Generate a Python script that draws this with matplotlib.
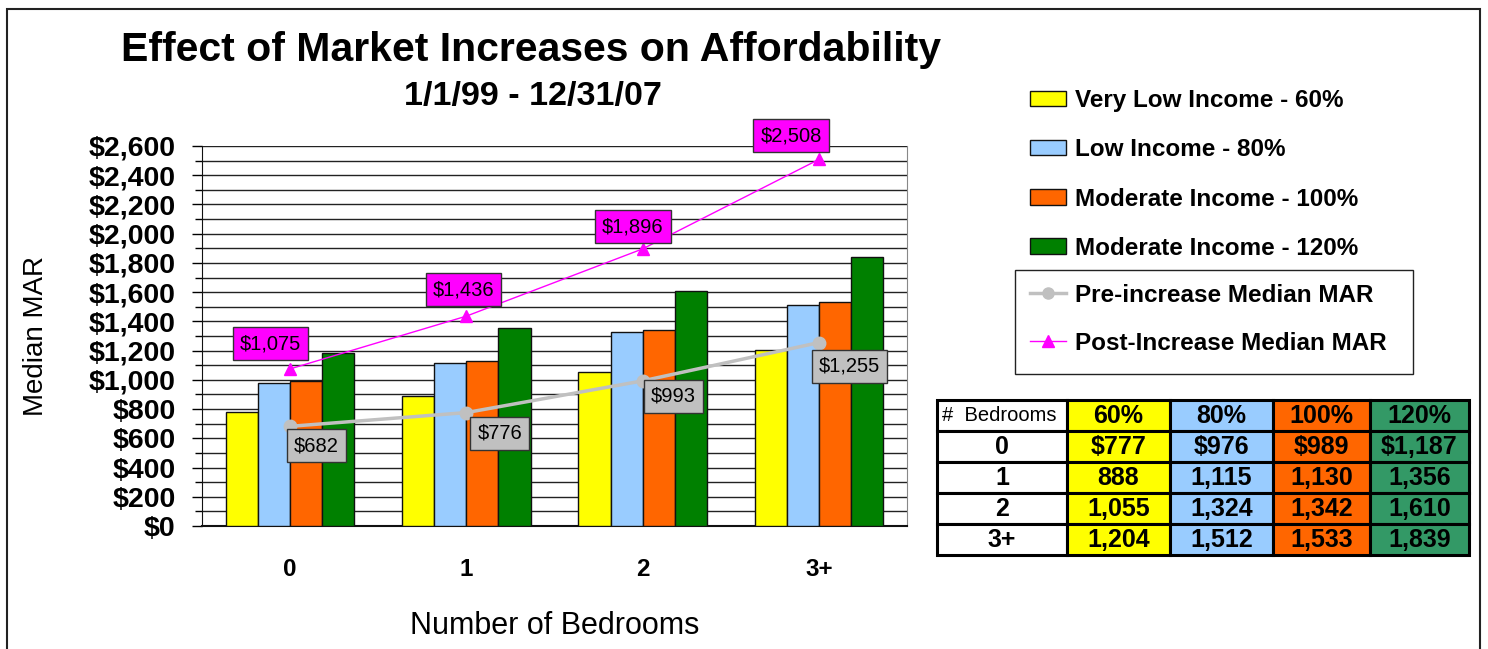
import matplotlib
matplotlib.use("Agg")
import matplotlib.pyplot as plt
import numpy as np
from matplotlib.patches import Rectangle, Patch
from matplotlib.lines import Line2D

plt.rcParams['font.family'] = ['Liberation Sans', 'DejaVu Sans']

bedrooms = ["0", "1", "2", "3+"]
very_low_60 = [777, 888, 1055, 1204]
low_80 = [976, 1115, 1324, 1512]
moderate_100 = [989, 1130, 1342, 1533]
moderate_120 = [1187, 1356, 1610, 1839]
pre_increase = [682, 776, 993, 1255]
post_increase = [1075, 1436, 1896, 2508]

series_names = ["Very Low Income - 60%", "Low Income - 80%",
                "Moderate Income - 100%", "Moderate Income - 120%"]
table_headers = ["60%", "80%", "100%", "120%"]
bar_colors = ["#FFFF00", "#99CCFF", "#FF6600", "#008000"]
table_colors = ["#FFFF00", "#99CCFF", "#FF6600", "#339966"]

W, H = 1488, 649
fig = plt.figure(figsize=(W / 100, H / 100), dpi=100)

# outer frame
fig.patches.append(Rectangle((7 / W, -0.05), (1480 - 7) / W, 1 - 9 / H + 0.05,
                             transform=fig.transFigure, fill=False,
                             edgecolor="#222222", linewidth=1.5))

ax = fig.add_axes([202 / W, 1 - 526 / H, (907 - 202) / W, (526 - 146) / H])

x = np.arange(len(bedrooms))
bw = 0.182
all_series = [very_low_60, low_80, moderate_100, moderate_120]
for i, (vals, col) in enumerate(zip(all_series, bar_colors)):
    ax.bar(x + (i - 1.5) * bw, vals, bw, color=col, edgecolor="#111111",
           linewidth=1, zorder=3)

ax.plot(x, pre_increase, color="#C0C0C0", linewidth=2.5, marker="o",
        markersize=9, zorder=4)
ax.plot(x, post_increase, color="#FF00FF", linewidth=1, marker="^",
        markersize=9, zorder=4)

pre_offsets = [(19, -14), (24, -15), (22, -11), (22, -17)]
post_offsets = [(-14, 18), (-2, 19), (-7, 16), (-20, 17)]
for xi, v, off in zip(x, pre_increase, pre_offsets):
    ax.annotate(f"${v:,}", (xi, v), xytext=off, textcoords="offset points",
                ha="center", va="center", fontsize=14.5, zorder=6,
                bbox=dict(boxstyle="square,pad=0.35", fc="#C0C0C0", ec="#333333", lw=1))
for xi, v, off in zip(x, post_increase, post_offsets):
    ax.annotate(f"${v:,}", (xi, v), xytext=off, textcoords="offset points",
                ha="center", va="center", fontsize=14.5, zorder=6, annotation_clip=False,
                bbox=dict(boxstyle="square,pad=0.35", fc="#FF00FF", ec="#333333", lw=1))

ax.set_xlim(-0.5, 3.5)
ax.set_ylim(0, 2600)
ax.set_yticks(np.arange(0, 2601, 200))
ax.set_yticks(np.arange(100, 2600, 200), minor=True)
ax.set_yticklabels([f"${v:,}" for v in range(0, 2601, 200)],
                   fontsize=20.5, fontweight="bold")
ax.set_xticks(x)
ax.set_xticklabels(bedrooms, fontsize=17.5, fontweight="bold")
ax.tick_params(axis="x", length=0, pad=23)
ax.tick_params(axis="y", which="major", length=7, width=1, pad=12)
ax.tick_params(axis="y", which="minor", length=5, width=1)
for v in range(100, 2601, 100):
    ax.axhline(v, color="#222222", linewidth=1, zorder=1)
ax.spines["top"].set_visible(False)
ax.spines["right"].set_color("#888888")
ax.spines["left"].set_color("#111111")
ax.spines["bottom"].set_color("#111111")
ax.spines["bottom"].set_linewidth(1.5)

ax.set_ylabel("Median MAR", fontsize=20)
ax.yaxis.set_label_coords((49 - 202) / 705, 0.5)
ax.set_xlabel("Number of Bedrooms", fontsize=22, labelpad=22)

fig.text(531 / W, 1 - 50 / H, "Effect of Market Increases on Affordability",
         ha="center", va="center", fontsize=29.5, fontweight="bold")
fig.text(533 / W, 1 - 97 / H, "1/1/99 - 12/31/07",
         ha="center", va="center", fontsize=24.5, fontweight="bold")

# legends
bar_handles = [Patch(facecolor=c, edgecolor="#111111", linewidth=1) for c in bar_colors]
fig.legend(bar_handles, series_names, loc="upper left",
           bbox_to_anchor=(1030 / W, 1 - 89 / H), frameon=False,
           prop=dict(size=17.5, weight="bold"), borderpad=0, borderaxespad=0,
           labelspacing=1.08, handlelength=1.5, handleheight=0.6,
           handletextpad=0.35)
line_handles = [Line2D([], [], color="#C0C0C0", lw=2.5, marker="o", markersize=8),
                Line2D([], [], color="#FF00FF", lw=1, marker="^", markersize=9)]
fig.legend(line_handles, ["Pre-increase Median MAR", "Post-Increase Median MAR"],
           loc="upper left", bbox_to_anchor=(1030 / W, 1 - 284 / H),
           frameon=False, prop=dict(size=17.5, weight="bold"), borderpad=0,
           borderaxespad=0, labelspacing=1.02, handlelength=1.5,
           handletextpad=0.35)
fig.patches.append(Rectangle((1015 / W, 1 - 374 / H), (1413 - 1015) / W, (374 - 270) / H,
                             transform=fig.transFigure, fill=False,
                             edgecolor="#222222", linewidth=1))

# data table
tax = fig.add_axes([937 / W, 1 - 555 / H, (1469 - 937) / W, (555 - 400) / H])
tax.set_xlim(937, 1469)
tax.set_ylim(5, 0)
tax.axis("off")
edges = [937, 1067, 1170, 1273, 1370, 1469]
rows = [["# Bedrooms"] + table_headers]
for r, b in enumerate(bedrooms):
    row = [b]
    for s in all_series:
        row.append(f"${s[r]:,}" if r == 0 else f"{s[r]:,}")
    rows.append(row)
for r, row in enumerate(rows):
    for c, txt in enumerate(row):
        fc = "white" if c == 0 else table_colors[c - 1]
        tax.add_patch(Rectangle((edges[c], r), edges[c + 1] - edges[c], 1,
                                facecolor=fc, edgecolor="black", linewidth=2.2,
                                clip_on=False))
        if r == 0 and c == 0:
            tax.text(edges[0] + 5, r + 0.5, "#  Bedrooms", ha="left",
                     va="center", fontsize=14.5)
        else:
            tax.text((edges[c] + edges[c + 1]) / 2, r + 0.52, txt, ha="center",
                     va="center", fontsize=18, fontweight="bold")

fig.savefig("out.png", dpi=100)
